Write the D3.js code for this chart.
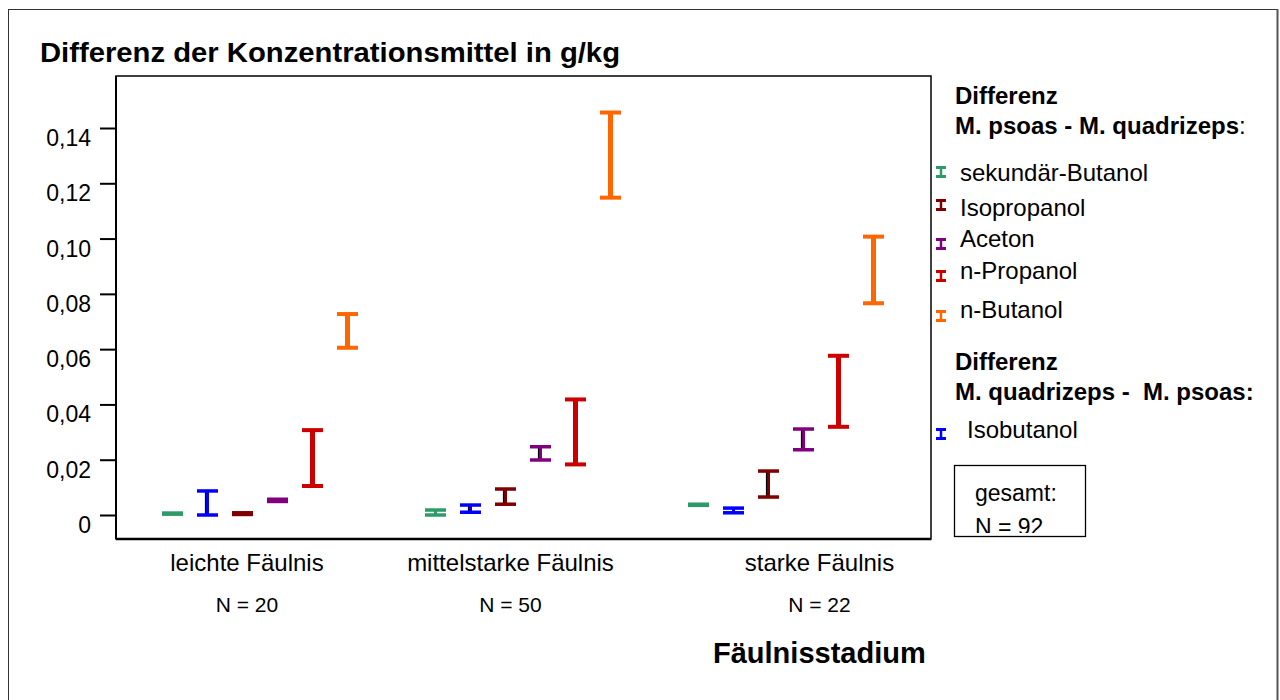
<!DOCTYPE html>
<html>
<head>
<meta charset="utf-8">
<script src="https://cdn.jsdelivr.net/npm/d3@7"></script>
<style>
  body { margin: 0; background: #fff; }
  svg { display: block; font-family: "Liberation Sans", Arial, sans-serif; }
</style>
</head>
<body>
<svg id="chart" width="1280" height="700"></svg>
<script>
// Fäulnisstadien (x-axis groups) and their sample sizes
const stages = ["leichte Fäulnis", "mittelstarke Fäulnis", "starke Fäulnis"];
const stageN = ["N = 20", "N = 50", "N = 22"];

// Substances, in drawing order within each group
const substances = ["sekundär-Butanol", "Isobutanol", "Isopropanol", "Aceton", "n-Propanol", "n-Butanol"];
const colors = ["#2e9a68", "#0000ff", "#7f0000", "#800080", "#cc0000", "#ff6600"];

// Confidence interval bounds (g/kg), one value per stage
const lowSekButanol  = [0.0003, 0.0000, 0.0035];
const highSekButanol = [0.0007, 0.0018, 0.0039];
const lowIsobutanol  = [0.0000, 0.0010, 0.0008];
const highIsobutanol = [0.0087, 0.0036, 0.0025];
const lowIsopropanol  = [0.0002, 0.0039, 0.0065];
const highIsopropanol = [0.0008, 0.0094, 0.0159];
const lowAceton  = [0.0049, 0.0199, 0.0236];
const highAceton = [0.0057, 0.0247, 0.0311];
const lowNPropanol  = [0.0105, 0.0183, 0.0319];
const highNPropanol = [0.0307, 0.0418, 0.0576];
const lowNButanol  = [0.0605, 0.1148, 0.0766];
const highNButanol = [0.0727, 0.1456, 0.1007];

const yTicks = [0, 0.02, 0.04, 0.06, 0.08, 0.10, 0.12, 0.14];
const yTickLabels = ["0", "0,02", "0,04", "0,06", "0,08", "0,10", "0,12", "0,14"];

const legendGroup1 = ["sekundär-Butanol", "Isopropanol", "Aceton", "n-Propanol", "n-Butanol"];
const legendGroup2 = ["Isobutanol"];

const lows  = [lowSekButanol, lowIsobutanol, lowIsopropanol, lowAceton, lowNPropanol, lowNButanol];
const highs = [highSekButanol, highIsobutanol, highIsopropanol, highAceton, highNPropanol, highNButanol];

const bars = [];
substances.forEach((s, si) => {
  stages.forEach((st, gi) => {
    bars.push({ substance: s, stage: st, low: lows[si][gi], high: highs[si][gi], color: colors[si], si });
  });
});

const svg = d3.select("#chart");

// outer frame
svg.append("line").attr("x1", 8.5).attr("y1", 9).attr("x2", 8.5).attr("y2", 700).attr("stroke", "#333").attr("stroke-width", 1);
svg.append("line").attr("x1", 8).attr("y1", 9.5).attr("x2", 1278).attr("y2", 9.5).attr("stroke", "#333").attr("stroke-width", 1);
svg.append("line").attr("x1", 1277.5).attr("y1", 9).attr("x2", 1277.5).attr("y2", 700).attr("stroke", "#555").attr("stroke-width", 2);

const plot = { left: 116, right: 931, top: 76, bottom: 539 };

const y = d3.scaleLinear().domain([0, 0.14]).range([515, 128]);

const x = d3.scaleBand().domain(stages).range([128.5, 917.5]);
const xInner = d3.scaleBand().domain(substances).range([-105, 105]);

// plot frame
svg.append("rect")
  .attr("x", plot.left).attr("y", plot.top)
  .attr("width", plot.right - plot.left).attr("height", plot.bottom - plot.top)
  .attr("fill", "none").attr("stroke", "#000").attr("stroke-width", 1.5);
svg.append("line").attr("x1", plot.left).attr("x2", plot.right).attr("y1", plot.bottom).attr("y2", plot.bottom)
  .attr("stroke", "#000").attr("stroke-width", 2.5);
svg.append("line").attr("x1", plot.left).attr("x2", plot.left).attr("y1", plot.top).attr("y2", plot.bottom)
  .attr("stroke", "#000").attr("stroke-width", 2);

// y axis
const yAxis = d3.axisLeft(y).tickValues(yTicks).tickFormat((d, i) => yTickLabels[i]).tickSize(16).tickPadding(9);
const ya = svg.append("g").attr("transform", `translate(${plot.left},0)`).call(yAxis);
ya.select(".domain").remove();
ya.selectAll(".tick line").attr("stroke", "#000").attr("stroke-width", 2);
ya.selectAll(".tick text").attr("font-size", 23).attr("fill", "#000")
  .attr("font-family", "Liberation Sans, Arial, sans-serif").attr("dy", 17.5);

// category labels with sample sizes
const labelShift = [-13, -12.5, 33.5];
stages.forEach((st, i) => {
  const cx = x(st) + x.bandwidth() / 2 + labelShift[i];
  svg.append("text").attr("x", cx).attr("y", 571).attr("text-anchor", "middle")
    .attr("font-size", 24).text(st);
  svg.append("text").attr("x", cx).attr("y", 612).attr("text-anchor", "middle")
    .attr("font-size", 21).text(stageN[i]);
});

// error bars
const capW = 21;
const g = svg.append("g");
bars.forEach(b => {
  const cx = x(b.stage) + x.bandwidth() / 2 + xInner(b.substance) + xInner.bandwidth() / 2;
  const y0 = y(b.low), y1 = y(b.high);
  const thick = b.si >= 4;
  const w = thick ? 5 : 3;
  const capH = thick ? 4 : 3.5;
  g.append("line").attr("x1", cx).attr("x2", cx).attr("y1", y0).attr("y2", y1)
    .attr("stroke", b.color).attr("stroke-width", w);
  if (!thick && Math.abs(y0 - y1) > 6) {
    g.append("line").attr("x1", cx - 2).attr("x2", cx - 2).attr("y1", y0).attr("y2", y1)
      .attr("stroke", "#000").attr("stroke-width", 1.2);
  }
  [y0, y1].forEach(yy => {
    g.append("line").attr("x1", cx - capW / 2).attr("x2", cx + capW / 2).attr("y1", yy).attr("y2", yy)
      .attr("stroke", b.color).attr("stroke-width", capH);
  });
});

// titles
svg.append("text").attr("x", 40).attr("y", 62).attr("font-size", 27).attr("font-weight", "bold")
  .attr("textLength", 580).attr("lengthAdjust", "spacingAndGlyphs")
  .text("Differenz der Konzentrationsmittel in g/kg");
svg.append("text").attr("x", 713).attr("y", 663).attr("font-size", 29).attr("font-weight", "bold")
  .text("Fäulnisstadium");

// legend
function legendSymbol(cx, cy, color) {
  svg.append("line").attr("x1", cx).attr("x2", cx).attr("y1", cy - 5).attr("y2", cy + 5)
    .attr("stroke", color).attr("stroke-width", 2.5);
  [cy - 4.5, cy + 4.5].forEach(yy => svg.append("line").attr("x1", cx - 5).attr("x2", cx + 5)
    .attr("y1", yy).attr("y2", yy).attr("stroke", color).attr("stroke-width", 3));
}
svg.append("text").attr("x", 955).attr("y", 104).attr("font-size", 24).attr("font-weight", "bold").text("Differenz");
const t1 = svg.append("text").attr("x", 955).attr("y", 134).attr("font-size", 24);
t1.append("tspan").attr("font-weight", "bold").text("M. psoas - M. quadrizeps");
t1.append("tspan").text(":");

const legY1 = [181, 216, 247, 279, 318];
const legSymY1 = [172, 205, 244, 276, 316];
legendGroup1.forEach((name, i) => {
  const color = colors[substances.indexOf(name)];
  legendSymbol(941, legSymY1[i], color);
  svg.append("text").attr("x", 960).attr("y", legY1[i]).attr("font-size", 24).text(name);
});

svg.append("text").attr("x", 955).attr("y", 370).attr("font-size", 24).attr("font-weight", "bold").text("Differenz");
svg.append("text").attr("x", 955).attr("y", 400).attr("font-size", 24).attr("font-weight", "bold")
  .attr("xml:space", "preserve").style("white-space", "pre").text("M. quadrizeps -  M. psoas:");
legendGroup2.forEach(name => {
  const color = colors[substances.indexOf(name)];
  legendSymbol(941, 434, color);
  svg.append("text").attr("x", 967).attr("y", 438).attr("font-size", 24).text(name);
});

// total sample box (second line is cut off by the frame)
const clip = svg.append("defs").append("clipPath").attr("id", "boxclip");
clip.append("rect").attr("x", 954).attr("y", 465).attr("width", 132).attr("height", 68);
svg.append("rect").attr("x", 954.5).attr("y", 465.5).attr("width", 131).attr("height", 71)
  .attr("fill", "#fff").attr("stroke", "#000").attr("stroke-width", 1.3);
const gb = svg.append("g").attr("clip-path", "url(#boxclip)");
gb.append("text").attr("x", 975).attr("y", 501).attr("font-size", 23).text("gesamt:");
gb.append("text").attr("x", 975).attr("y", 535).attr("font-size", 23).text("N = 92");
</script>
</body>
</html>
